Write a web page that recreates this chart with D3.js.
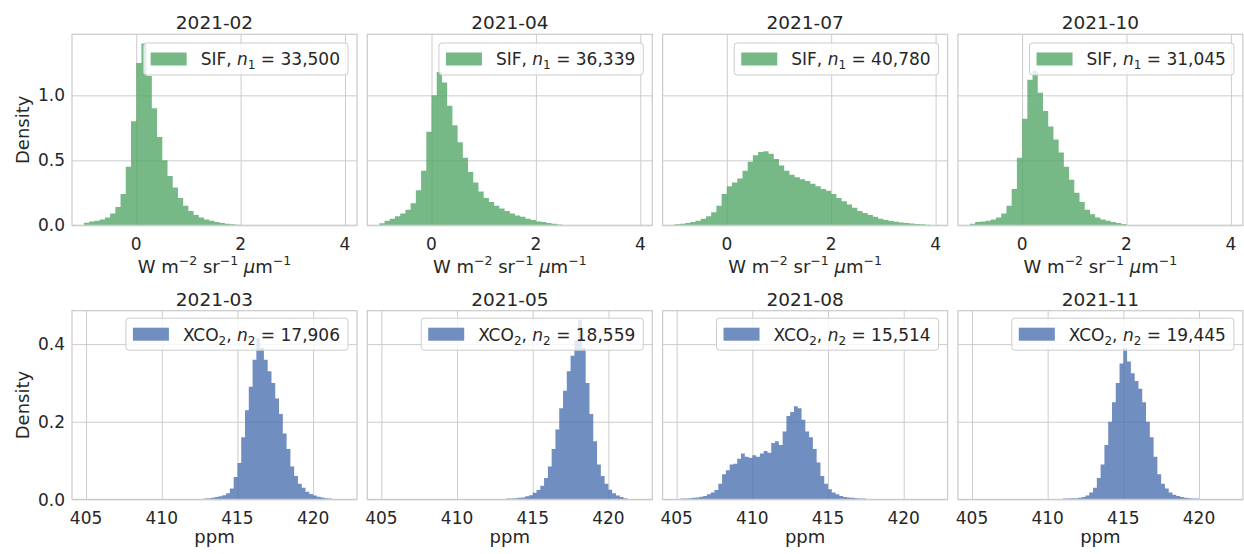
<!DOCTYPE html>
<html>
<head>
<meta charset="utf-8">
<script src="https://cdnjs.cloudflare.com/ajax/libs/d3/7.8.5/d3.min.js"></script>
<style>
    body { margin: 0; background: #fff; }
    text { font-family: "DejaVu Sans", sans-serif; fill: #262626; }
</style>
</head>
<body>
<svg id="chart" width="1244" height="554"></svg>
<script>

// ---------- data (density per bin)

// SIF row, bins of 0.1 starting at -1.0
var sifMonths = ["2021-02", "2021-04", "2021-07", "2021-10"];
var sifCounts = ["33,500", "36,339", "40,780", "31,045"];
var sifBinStart = [-1.0, -1.0, -1.0, -1.0];
var sifBinWidth = 0.1;

var sifFeb = [0.02, 0.03, 0.035, 0.045, 0.06, 0.09, 0.14, 0.24, 0.45, 0.80,
    1.25, 1.40, 1.15, 0.90, 0.68, 0.50, 0.38, 0.29, 0.21, 0.15,
    0.11, 0.08, 0.06, 0.045, 0.035, 0.025, 0.018, 0.012, 0.008, 0.004];
var sifApr = [0.015, 0.035, 0.05, 0.07, 0.09, 0.12, 0.17, 0.27, 0.42, 0.72,
    1.00, 1.18, 1.10, 0.92, 0.77, 0.64, 0.52, 0.41, 0.33, 0.26,
    0.21, 0.18, 0.15, 0.13, 0.11, 0.09, 0.075, 0.065, 0.05, 0.04,
    0.03, 0.025, 0.018, 0.012, 0.007];
var sifJul = [0.008, 0.012, 0.018, 0.025, 0.035, 0.05, 0.07, 0.10, 0.15, 0.24,
    0.30, 0.33, 0.36, 0.42, 0.49, 0.54, 0.565, 0.57, 0.55, 0.51,
    0.46, 0.42, 0.39, 0.37, 0.355, 0.34, 0.32, 0.30, 0.28, 0.265,
    0.24, 0.21, 0.185, 0.16, 0.135, 0.11, 0.095, 0.08, 0.065, 0.05,
    0.04, 0.033, 0.027, 0.021, 0.017, 0.013, 0.01, 0.008, 0.005];
var sifOct = [0.012, 0.025, 0.03, 0.035, 0.045, 0.06, 0.09, 0.15, 0.28, 0.52,
    0.82, 1.12, 1.19, 1.02, 0.88, 0.76, 0.66, 0.56, 0.45, 0.35,
    0.25, 0.18, 0.12, 0.085, 0.06, 0.045, 0.035, 0.025, 0.018, 0.01];
var sifValues = [sifFeb, sifApr, sifJul, sifOct];

// XCO2 row, bins of 0.25 ppm
var xco2Months = ["2021-03", "2021-05", "2021-08", "2021-11"];
var xco2Counts = ["17,906", "18,559", "15,514", "19,445"];
var xco2BinStart = [412.5, 413.0, 405.0, 410.5];
var xco2BinWidth = 0.25;

var xco2Mar = [0.001, 0.002, 0.003, 0.004, 0.006, 0.008, 0.011, 0.016, 0.028, 0.058,
    0.094, 0.16, 0.23, 0.29, 0.36, 0.415, 0.39, 0.36, 0.33, 0.30,
    0.26, 0.22, 0.17, 0.13, 0.085, 0.06, 0.04, 0.03, 0.02, 0.014,
    0.01, 0.007, 0.005, 0.003, 0.002, 0.001];
var xco2May = [0.001, 0.002, 0.002, 0.003, 0.004, 0.005, 0.008, 0.011, 0.017, 0.024,
    0.035, 0.055, 0.085, 0.13, 0.18, 0.235, 0.28, 0.33, 0.37, 0.41,
    0.463, 0.39, 0.30, 0.22, 0.15, 0.09, 0.06, 0.04, 0.025, 0.016,
    0.01, 0.006, 0.003];
var xco2Aug = [0.001, 0.002, 0.002, 0.003, 0.004, 0.005, 0.007, 0.009, 0.013, 0.018,
    0.024, 0.04, 0.065, 0.075, 0.09, 0.092, 0.105, 0.118, 0.11, 0.107,
    0.114, 0.11, 0.118, 0.125, 0.12, 0.145, 0.15, 0.14, 0.175, 0.215,
    0.225, 0.24, 0.235, 0.205, 0.175, 0.16, 0.13, 0.095, 0.06, 0.04,
    0.026, 0.018, 0.013, 0.009, 0.006, 0.005, 0.004, 0.003, 0.002, 0.002,
    0.001, 0.001];
var xco2Nov = [0.001, 0.001, 0.002, 0.002, 0.003, 0.003, 0.004, 0.006, 0.01, 0.018,
    0.03, 0.055, 0.09, 0.14, 0.20, 0.25, 0.30, 0.35, 0.39, 0.355,
    0.325, 0.305, 0.285, 0.25, 0.20, 0.16, 0.11, 0.065, 0.04, 0.028,
    0.018, 0.012, 0.009, 0.006, 0.004, 0.003, 0.002, 0.002, 0.001];
var xco2Values = [xco2Mar, xco2May, xco2Aug, xco2Nov];

// axis limits and ticks
var sifXLim = [-1.23, 4.23];
var sifXTicks = [0, 2, 4];
var sifYTicks = [0.0, 0.5, 1.0];
var xco2XLim = [404.07, 422.9];
var xco2XTicks = [405, 410, 415, 420];
var xco2YTicks = [0.0, 0.2, 0.4];


// ---------- layout
var svg = d3.select("#chart");
var colLeft = 72;
var colWidth = 285;
var colGap = 10.3;
var rows = [
    {top: 34.3, height: 191, labelOffset: 47.5},
    {top: 310.7, height: 188.7, labelOffset: 44}
];

var green = "#55a868";
var blue = "#4c72b0";
var gridColor = "#cccccc";
var tickFont = "17px";
var labelFont = "18px";
var titleFont = "18.5px";
var legendFont = "17px";


function addSifLabel(text) {
    // W m^-2 sr^-1 μm^-1
    text.append("tspan").text("W m");
    text.append("tspan").attr("font-size", "12.5px").attr("dy", -7.5).text("\u22122");
    text.append("tspan").attr("dy", 7.5).text(" sr");
    text.append("tspan").attr("font-size", "12.5px").attr("dy", -7.5).text("\u22121");
    text.append("tspan").attr("dy", 7.5).text(" ");
    text.append("tspan").attr("font-style", "italic").text("\u03bc");
    text.append("tspan").text("m");
    text.append("tspan").attr("font-size", "12.5px").attr("dy", -7.5).text("\u22121");
}

function addLegendText(text, isSif, count) {
    if (isSif) {
        text.append("tspan").text("SIF, ");
    } else {
        text.append("tspan").text("XCO");
        text.append("tspan").attr("font-size", "12px").attr("dy", 4).text("2");
        text.append("tspan").attr("dy", -4).text(", ");
    }
    text.append("tspan").attr("font-style", "italic").text("n");
    text.append("tspan").attr("font-size", "12px").attr("dy", 4).text(isSif ? "1" : "2");
    text.append("tspan").attr("dy", -4).text(" = " + count);
}


function drawPanel(rowIndex, colIndex) {
    var isSif = rowIndex === 0;
    var row = rows[rowIndex];
    var values = isSif ? sifValues[colIndex] : xco2Values[colIndex];
    var binStart = isSif ? sifBinStart[colIndex] : xco2BinStart[colIndex];
    var binWidth = isSif ? sifBinWidth : xco2BinWidth;
    var xTicks = isSif ? sifXTicks : xco2XTicks;
    var yTicks = isSif ? sifYTicks : xco2YTicks;
    var color = isSif ? green : blue;

    var left = colLeft + colIndex * (colWidth + colGap);
    var top = row.top;
    var w = colWidth, h = row.height;

    // y limit is shared across the row: max * 1.05 like matplotlib
    var rowMax = d3.max(isSif ? sifValues : xco2Values, function (arr) { return d3.max(arr); });

    var xScale = d3.scaleLinear().domain(isSif ? sifXLim : xco2XLim).range([0, w]);
    var yScale = d3.scaleLinear().domain([0, rowMax * 1.05]).range([h, 0]);

    var g = svg.append("g")
        .attr("class", "panel")
        .attr("transform", "translate(" + left + "," + top + ")");

    var clipId = "clip-" + rowIndex + "-" + colIndex;
    g.append("clipPath").attr("id", clipId)
        .append("rect").attr("width", w).attr("height", h);

    // grid
    g.append("g")
        .attr("class", "xGrid")
        .call(d3.axisBottom(xScale).tickValues(xTicks).tickSize(h).tickFormat(""))
        .call(function (s) {
            s.select(".domain").remove();
            s.selectAll("line").attr("stroke", gridColor).attr("stroke-width", 1);
        });
    g.append("g")
        .attr("class", "yGrid")
        .call(d3.axisLeft(yScale).tickValues(yTicks).tickSize(-w).tickFormat(""))
        .call(function (s) {
            s.select(".domain").remove();
            s.selectAll("line").attr("stroke", gridColor).attr("stroke-width", 1);
        });

    // histogram as a stepped area
    var bins = values.map(function (v, i) {
        return {x: binStart + i * binWidth, v: v};
    });
    bins.push({x: binStart + values.length * binWidth, v: values[values.length - 1]});

    var area = d3.area()
        .curve(d3.curveStepAfter)
        .x(function (d) { return xScale(d.x); })
        .y0(yScale(0))
        .y1(function (d) { return yScale(d.v); });

    g.append("path")
        .datum(bins)
        .attr("clip-path", "url(#" + clipId + ")")
        .attr("d", area)
        .attr("fill", color)
        .attr("fill-opacity", 0.8);

    // frame
    g.append("rect")
        .attr("width", w).attr("height", h)
        .attr("fill", "none")
        .attr("stroke", gridColor)
        .attr("stroke-width", 1.25);

    // x tick labels
    g.append("g")
        .attr("class", "xTickLabels")
        .selectAll("text")
        .data(xTicks)
        .enter()
        .append("text")
        .attr("x", function (d) { return xScale(d); })
        .attr("y", h + 25)
        .attr("text-anchor", "middle")
        .attr("font-size", tickFont)
        .text(function (d) { return d; });

    // y tick labels and label only on first column (shared y)
    if (colIndex === 0) {
        g.append("g")
            .attr("class", "yTickLabels")
            .selectAll("text")
            .data(yTicks)
            .enter()
            .append("text")
            .attr("x", -7)
            .attr("y", function (d) { return yScale(d); })
            .attr("dy", "0.36em")
            .attr("text-anchor", "end")
            .attr("font-size", tickFont)
            .text(function (d) { return d.toFixed(1); });

        g.append("text")
            .attr("transform", "translate(" + (29 - left) + "," + (h / 2) + ") rotate(-90)")
            .attr("text-anchor", "middle")
            .attr("font-size", labelFont)
            .text("Density");
    }

    // title
    g.append("text")
        .attr("x", w / 2)
        .attr("y", -5)
        .attr("text-anchor", "middle")
        .attr("font-size", titleFont)
        .text(isSif ? sifMonths[colIndex] : xco2Months[colIndex]);

    // x label
    var xLabel = g.append("text")
        .attr("x", w / 2)
        .attr("y", h + row.labelOffset)
        .attr("text-anchor", "middle")
        .attr("font-size", labelFont);
    if (isSif) {
        addSifLabel(xLabel);
    } else {
        xLabel.text("ppm");
    }

    // legend, anchored to upper right
    var legend = g.append("g").attr("class", "legend");
    var legendBox = legend.append("rect");
    var legendText = legend.append("text")
        .attr("font-size", legendFont);
    addLegendText(legendText, isSif, isSif ? sifCounts[colIndex] : xco2Counts[colIndex]);
    var textLen = legendText.node().getComputedTextLength();

    var boxW = 7 + 36 + 14 + textLen + 8;
    var boxH = 32;
    var boxX = w - 9 - boxW;
    var boxY = rowIndex === 0 ? 8.7 : 7.5;

    legendBox
        .attr("x", boxX).attr("y", boxY)
        .attr("width", boxW).attr("height", boxH)
        .attr("rx", 3)
        .attr("fill", "#ffffff").attr("fill-opacity", 0.8)
        .attr("stroke", gridColor).attr("stroke-width", 1);
    legend.append("rect")
        .attr("x", boxX + 7).attr("y", boxY + 9.5)
        .attr("width", 36).attr("height", 13)
        .attr("fill", color).attr("fill-opacity", 0.8);
    legendText
        .attr("x", boxX + 7 + 36 + 14)
        .attr("y", boxY + 22.5);
    legendText.raise();
}


for (var r = 0; r < 2; r++) {
    for (var c = 0; c < 4; c++) {
        drawPanel(r, c);
    }
}

</script>
</body>
</html>
